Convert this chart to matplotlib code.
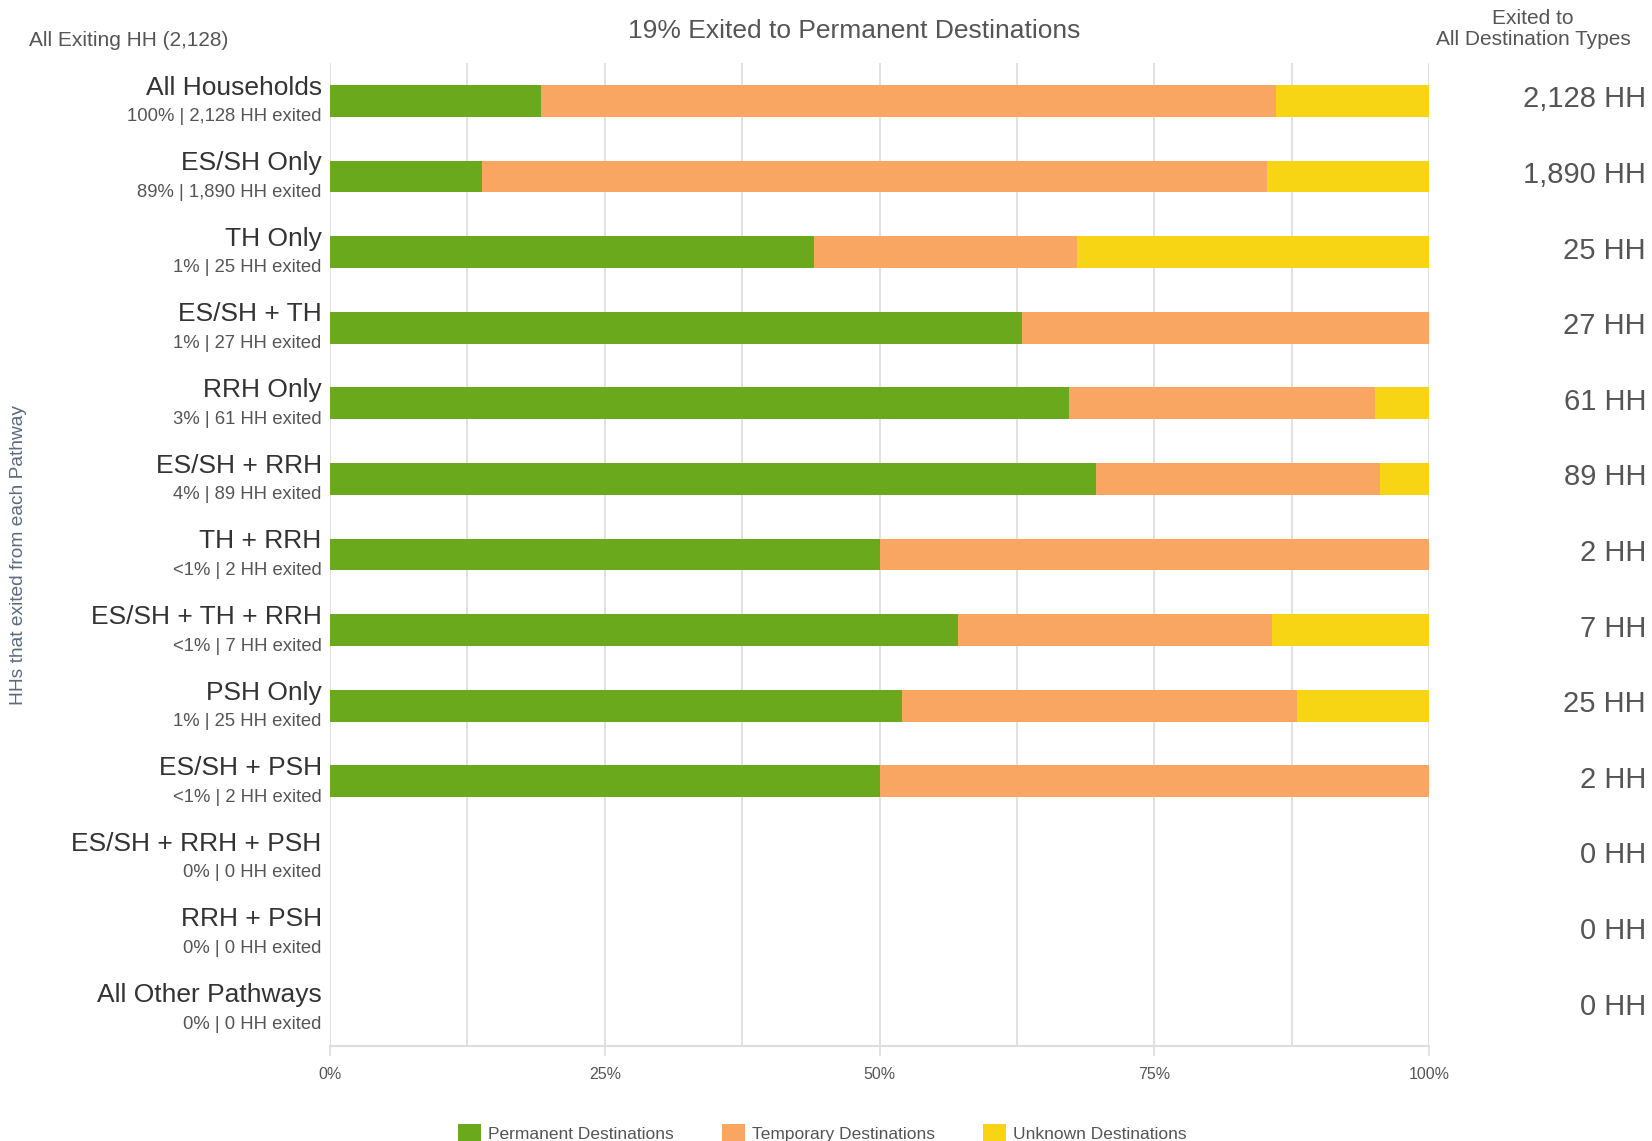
import matplotlib
matplotlib.use("Agg")
import matplotlib.pyplot as plt
import matplotlib.transforms as mtransforms
from matplotlib.patches import Patch
import numpy as np

plt.rcParams['font.family'] = ['Liberation Sans', 'DejaVu Sans']

# ---- data ----
pathways = ["All Households", "ES/SH Only", "TH Only", "ES/SH + TH", "RRH Only",
            "ES/SH + RRH", "TH + RRH", "ES/SH + TH + RRH", "PSH Only", "ES/SH + PSH",
            "ES/SH + RRH + PSH", "RRH + PSH", "All Other Pathways"]
share_labels = ["100%", "89%", "1%", "1%", "3%", "4%", "<1%", "<1%", "1%", "<1%", "0%", "0%", "0%"]
total_hh = [2128, 1890, 25, 27, 61, 89, 2, 7, 25, 2, 0, 0, 0]
permanent_hh = [409, 261, 11, 17, 41, 62, 1, 4, 13, 1, 0, 0, 0]
temporary_hh = [1423, 1351, 6, 10, 17, 23, 1, 2, 9, 1, 0, 0, 0]
unknown_hh = [296, 278, 8, 0, 3, 4, 0, 1, 3, 0, 0, 0, 0]
series_names = ["Permanent Destinations", "Temporary Destinations", "Unknown Destinations"]
series_colors = ["#6aa91b", "#f8a662", "#f8d514"]
xtick_vals = [0, 25, 50, 75, 100]
title = "19% Exited to Permanent Destinations"

fig = plt.figure(figsize=(16.52, 11.41), dpi=100)
ax = fig.add_axes([0.1998, 0.0833, 0.6652, 0.8615])

n = len(pathways)
y = np.arange(n)
tot = np.array(total_hh, dtype=float)
safe = np.where(tot > 0, tot, 1)
perm = np.array(permanent_hh) / safe * 100
temp = np.array(temporary_hh) / safe * 100
unk = np.array(unknown_hh) / safe * 100

left = np.zeros(n)
for vals, col in zip([perm, temp, unk], series_colors):
    ax.barh(y, vals, left=left, height=0.42, color=col, edgecolor='none', zorder=3)
    left = left + vals

ax.set_xlim(0, 100)
ax.set_ylim(n - 0.5, -0.5)

# grid lines
for gx in np.arange(0, 100.1, 12.5):
    ax.axvline(gx, color='#dedede', lw=1.3, zorder=1)

for s in ['top', 'right', 'left']:
    ax.spines[s].set_visible(False)
ax.spines['bottom'].set_color('#dedede')
ax.spines['bottom'].set_linewidth(1.5)

ax.set_yticks([])
ax.set_xticks(xtick_vals)
ax.set_xticklabels([f"{v}%" for v in xtick_vals], fontsize=11.5, color='#555555')
ax.tick_params(axis='x', length=7, width=1.3, color='#dedede', pad=8)

# left labels
for i in range(n):
    ax.annotate(pathways[i], xy=(0, i), xytext=(-6, 9.5), textcoords='offset points',
                ha='right', va='center', fontsize=19, color='#333333')
    ax.annotate(f"{share_labels[i]} | {total_hh[i]:,} HH exited", xy=(0, i),
                xytext=(-6, -11.5), textcoords='offset points',
                ha='right', va='center', fontsize=13.3, color='#555555')

# right labels
trans = mtransforms.blended_transform_factory(ax.transAxes, ax.transData)
for i in range(n):
    ax.text(1.1975, i - 0.02, f"{total_hh[i]:,} HH", transform=trans, ha='right', va='center',
            fontsize=21, color='#555555')

# headers
fig.text(854 / 1652, 1 - 31 / 1141, title, ha='center', va='center', fontsize=19, color='#555555')
fig.text(29 / 1652, 1 - 40 / 1141, "All Exiting HH (2,128)", ha='left', va='center',
         fontsize=15, color='#555555')
fig.text(1533 / 1652, 1 - 29 / 1141, "Exited to\nAll Destination Types", ha='center', va='center',
         fontsize=15, color='#555555', linespacing=1.15)
fig.text(19 / 1652, 1 - 555 / 1141, "HHs that exited from each Pathway", rotation=90,
         ha='center', va='center', fontsize=13.8, color='#5b6b7d')

handles = [Patch(facecolor=c, edgecolor='none', label=l) for c, l in zip(series_colors, series_names)]
fig.legend(handles=handles, loc='center', bbox_to_anchor=(0.4977, 1 - 1133 / 1141), ncol=3,
           frameon=False, fontsize=12.5, labelcolor='#555555', handlelength=1.3, handleheight=1.3,
           handletextpad=0.4, columnspacing=2.8, borderpad=0)

fig.savefig("out.png", dpi=100)
